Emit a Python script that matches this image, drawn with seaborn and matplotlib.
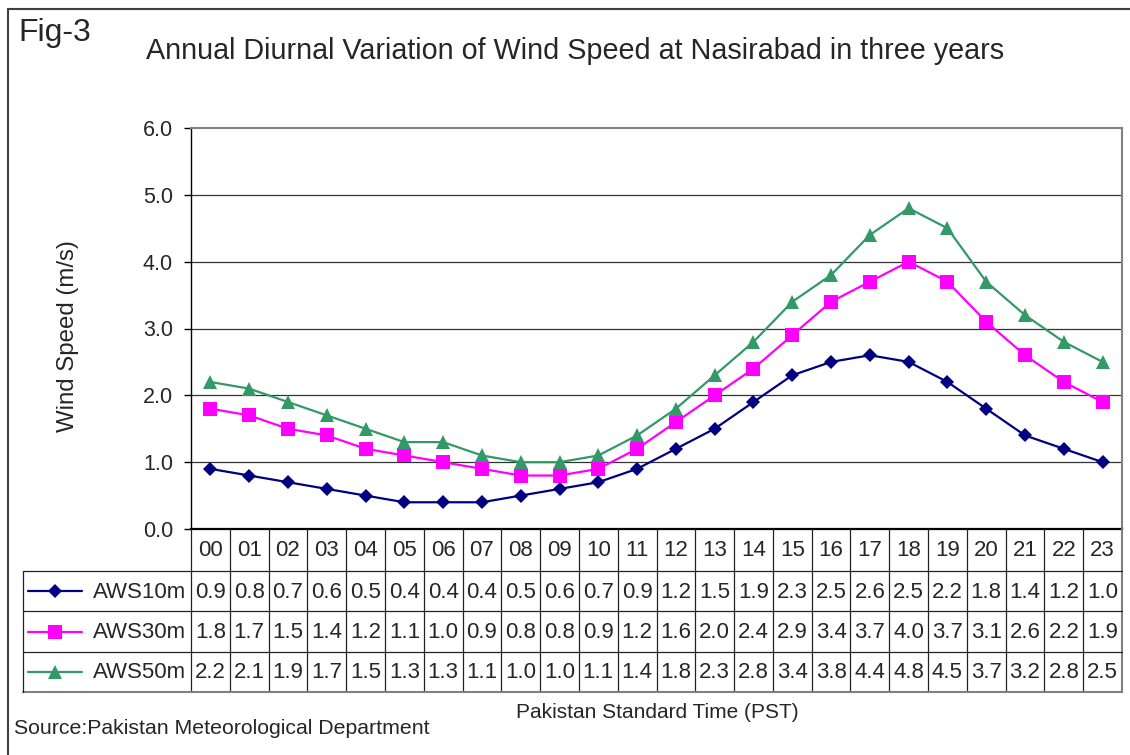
import numpy as np
import pandas as pd
import matplotlib
matplotlib.use('Agg')
import matplotlib.pyplot as plt
import seaborn as sns

# data (hourly means, m/s)
hours = ['00', '01', '02', '03', '04', '05', '06', '07', '08', '09', '10', '11',
         '12', '13', '14', '15', '16', '17', '18', '19', '20', '21', '22', '23']
series_names = ['AWS10m', 'AWS30m', 'AWS50m']
aws10 = [0.9, 0.8, 0.7, 0.6, 0.5, 0.4, 0.4, 0.4, 0.5, 0.6, 0.7, 0.9,
         1.2, 1.5, 1.9, 2.3, 2.5, 2.6, 2.5, 2.2, 1.8, 1.4, 1.2, 1.0]
aws30 = [1.8, 1.7, 1.5, 1.4, 1.2, 1.1, 1.0, 0.9, 0.8, 0.8, 0.9, 1.2,
         1.6, 2.0, 2.4, 2.9, 3.4, 3.7, 4.0, 3.7, 3.1, 2.6, 2.2, 1.9]
aws50 = [2.2, 2.1, 1.9, 1.7, 1.5, 1.3, 1.3, 1.1, 1.0, 1.0, 1.1, 1.4,
         1.8, 2.3, 2.8, 3.4, 3.8, 4.4, 4.8, 4.5, 3.7, 3.2, 2.8, 2.5]
yticks = [0.0, 1.0, 2.0, 3.0, 4.0, 5.0, 6.0]

colors = ['#000080', '#FF00FF', '#339966']
markers = ['D', 's', '^']
msizes = [7.3, 9.5, 10.5]

df = pd.DataFrame({
    'hour': np.tile(np.arange(len(hours)), 3),
    'speed': aws10 + aws30 + aws50,
    'series': np.repeat(series_names, len(hours)),
})

sns.set_style('white')
plt.rcParams['font.family'] = ['Liberation Sans', 'DejaVu Sans']

W, H = 1130, 755
fig = plt.figure(figsize=(W / 100, H / 100), dpi=100)

# layout in pixels
pl, pr, pt, pb = 191, 1122, 128, 529
ax = fig.add_axes([pl / W, 1 - pb / H, (pr - pl) / W, (pb - pt) / H])

for name, c, m, ms in zip(series_names, colors, markers, msizes):
    sns.lineplot(data=df[df['series'] == name], x='hour', y='speed', color=c,
                 marker=m, markersize=ms, markeredgecolor=c, markeredgewidth=0,
                 linewidth=1.6, ax=ax, legend=False, zorder=3)

ax.set_xlim(-0.5, len(hours) - 0.5)
ax.set_ylim(0, 6)
ax.set_xticks([])
ax.set_yticks(yticks)
ax.set_yticklabels(['%.1f' % v for v in yticks], fontsize=15.5)
ax.tick_params(axis='y', direction='out', length=5, width=1, color='black', pad=8, left=True)
ax.set_xlabel('')
ax.set_ylabel('')
for v in yticks[1:-1]:
    ax.axhline(v, color='#333333', lw=0.9, zorder=1)
ax.spines['left'].set_color('black')
ax.spines['left'].set_linewidth(1.0)
ax.spines['bottom'].set_color('black')
ax.spines['bottom'].set_linewidth(1.6)
ax.spines['top'].set_color('#808080')
ax.spines['top'].set_linewidth(1.5)
ax.spines['right'].set_color('#808080')
ax.spines['right'].set_linewidth(1.5)

# overlay in pixel coords for the data table and texts
ov = fig.add_axes([0, 0, 1, 1], zorder=5)
ov.set_xlim(0, W)
ov.set_ylim(H, 0)
ov.axis('off')
ov.patch.set_alpha(0)

col_w = (pr - pl) / len(hours)
row_edges = [pb, 571, 611, 652, 692]
leg_l = 23
lc = '#222222'

# grid of table
for i in range(len(hours) + 1):
    x = pl + i * col_w
    ov.plot([x, x], [pb, row_edges[-1]], color='#808080' if i == len(hours) else lc,
            lw=1.5 if i == len(hours) else 0.9)
for j, y in enumerate(row_edges[1:]):
    last = j == len(row_edges) - 2
    ov.plot([leg_l, pr], [y, y], color='#808080' if last else lc, lw=1.5 if last else 0.9)
ov.plot([leg_l, leg_l], [row_edges[1], row_edges[-1]], color=lc, lw=0.9)

for i, h in enumerate(hours):
    ov.text(pl + (i + 0.5) * col_w, (row_edges[0] + row_edges[1]) / 2 + 1, h,
            ha='center', va='center', fontsize=16)

for j, (name, vals) in enumerate(zip(series_names, [aws10, aws30, aws50])):
    yc = (row_edges[j + 1] + row_edges[j + 2]) / 2 + 1
    for i, v in enumerate(vals):
        ov.text(pl + (i + 0.5) * col_w, yc, '%.1f' % v, ha='center', va='center', fontsize=16)
    ov.plot([28, 82], [yc - 1, yc - 1], color=colors[j], lw=1.6)
    ov.plot([55], [yc - 1], marker=markers[j], markersize=msizes[j], color=colors[j],
            markeredgewidth=0)
    ov.text(186, yc, name, ha='right', va='center', fontsize=16)

# outer border
ov.plot([8, 8], [9, H], color='#404040', lw=1.5)
ov.plot([8, W], [9, 9], color='#404040', lw=1.5)

# texts
ov.text(18, 33, 'Fig-3', ha='left', va='center', fontsize=23)
ov.text(575, 51, 'Annual Diurnal Variation of Wind Speed at Nasirabad in three years',
        ha='center', va='center', fontsize=20.7)
ov.text(68, 336, 'Wind Speed (m/s)', ha='center', va='center', rotation=90, fontsize=17.3)
ov.text(657, 713, 'Pakistan Standard Time (PST)', ha='center', va='center', fontsize=15)
ov.text(14, 728, 'Source:Pakistan Meteorological Department', ha='left', va='center', fontsize=15.3)

fig.savefig('out.png', dpi=100)
